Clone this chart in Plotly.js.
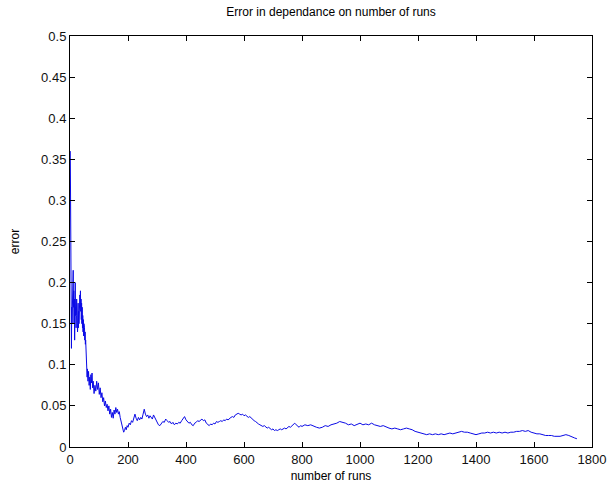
<!DOCTYPE html>
<html>
<head>
<meta charset="utf-8">
<script src="https://cdn.plot.ly/plotly-3.0.1.min.js"></script>
<style>html,body{margin:0;padding:0;background:#fff;}#chart{width:608px;height:490px;}</style>
</head>
<body>
<div id="chart"></div>
<script>
const runs = [
1,2,3,4,5,6,7,8,9,10,11,12,13,14,15,16,17,18,19,20,21,22,23,24,25,26,27,28,29,30,
31,32,33,34,35,36,37,38,39,40,41,42,43,44,45,46,47,48,49,50,51,52,53,54,55,56,57,58,59,60,
62,64,66,68,70,72,74,76,78,80,83,86,89,92,95,98,101,104,107,110,113,116,119,122,125,128,131,134,137,140,
143,146,149,152,155,158,161,164,167,170,173,176,179,182,185,188,191,194,197,200,
204,208,212,216,220,224,228,232,236,240,244,248,252,256,260,264,268,272,276,280,284,288,292,296,300,
305,310,315,320,325,330,335,340,345,350,355,360,365,370,375,380,385,390,395,400,
405,410,415,420,425,430,435,440,445,450,455,460,465,470,475,480,485,490,495,500,
505,510,515,520,525,530,535,540,545,550,555,560,565,570,575,580,585,590,595,600,
605,610,615,620,625,630,635,640,645,650,655,660,665,670,675,680,685,690,695,700,
705,710,715,720,725,730,735,740,745,750,755,760,765,770,775,780,785,790,795,800,
810,820,830,840,850,860,870,880,890,900,910,920,930,940,950,960,970,980,990,1000,
1010,1020,1030,1040,1050,1060,1070,1080,1090,1100,1110,1120,1130,1140,1150,1160,1170,1180,1190,1200,
1210,1220,1230,1240,1250,1260,1270,1280,1290,1300,1310,1320,1330,1340,1350,1360,1370,1380,1390,1400,
1410,1420,1430,1440,1450,1460,1470,1480,1490,1500,1510,1520,1530,1540,1550,1560,1570,1580,1590,1600,
1610,1620,1630,1640,1650,1660,1670,1680,1690,1700,1710,1720,1730,1740,1748
];
const errorValues = [
0.36,0.30,0.22,0.14,0.12,0.17,0.15,0.19,0.16,0.21,0.215,0.17,0.19,0.15,0.18,0.13,0.165,0.20,0.16,0.17,
0.145,0.16,0.18,0.155,0.17,0.14,0.15,0.175,0.145,0.165,0.15,0.18,0.16,0.185,0.17,0.19,0.165,0.18,0.155,0.175,
0.15,0.17,0.145,0.16,0.14,0.155,0.135,0.15,0.14,0.145,0.13,0.14,0.125,0.13,0.12,0.11,0.10,0.09,0.085,0.095,
0.08,0.092,0.075,0.085,0.07,0.088,0.078,0.09,0.072,0.08,0.065,0.075,0.068,0.08,0.07,0.078,0.064,0.072,0.06,0.066,
0.055,0.06,0.05,0.056,0.048,0.052,0.044,0.05,0.04,0.046,
0.036,0.042,0.035,0.045,0.04,0.048,0.042,0.046,0.04,0.043,0.036,0.032,0.027,0.022,0.018,0.02,0.024,0.021,0.026,0.024,
0.029,0.027,0.032,0.03,0.036,0.04,0.035,0.032,0.036,0.033,0.036,0.034,0.04,0.046,0.04,0.037,0.039,0.035,0.038,0.036,0.034,0.039,0.036,0.033,0.03,
0.027,0.026,0.029,0.031,0.03,0.034,0.032,0.03,0.031,0.028,0.03,0.027,0.029,0.028,0.03,0.029,0.032,0.034,0.037,0.033,
0.031,0.029,0.03,0.027,0.026,0.029,0.03,0.032,0.031,0.033,0.034,0.032,0.033,0.029,0.027,0.026,0.028,0.027,0.029,0.028,
0.031,0.03,0.031,0.032,0.031,0.033,0.032,0.034,0.033,0.035,0.036,0.037,0.036,0.039,0.04,0.041,0.04,0.039,0.04,0.038,
0.039,0.037,0.036,0.037,0.035,0.034,0.032,0.031,0.029,0.028,0.027,0.026,0.025,0.026,0.024,0.023,0.024,0.022,0.021,0.022,
0.02,0.021,0.02,0.021,0.022,0.021,0.022,0.023,0.022,0.024,0.025,0.024,0.026,0.028,0.029,0.027,0.025,0.024,0.026,0.025,
0.027,0.026,0.027,0.025,0.024,0.023,0.024,0.026,0.025,0.027,0.028,0.029,0.031,0.03,0.029,0.027,0.028,0.026,0.028,0.029,
0.027,0.028,0.027,0.029,0.027,0.026,0.025,0.026,0.024,0.023,0.022,0.023,0.022,0.021,0.022,0.023,0.022,0.021,0.019,0.018,
0.017,0.016,0.015,0.016,0.015,0.016,0.015,0.016,0.015,0.016,0.017,0.016,0.017,0.018,0.019,0.018,0.018,0.017,0.016,0.015,
0.016,0.017,0.017,0.018,0.017,0.018,0.017,0.018,0.017,0.018,0.017,0.018,0.018,0.019,0.019,0.02,0.019,0.02,0.018,0.017,
0.016,0.016,0.015,0.014,0.014,0.014,0.013,0.013,0.013,0.014,0.015,0.014,0.012,0.011,0.01
];
const xTicks = [0,200,400,600,800,1000,1200,1400,1600,1800];
const yTicks = [0,0.05,0.1,0.15,0.2,0.25,0.3,0.35,0.4,0.45,0.5];
const yTickText = ['0','0.05','0.1','0.15','0.2','0.25','0.3','0.35','0.4','0.45','0.5'];

const font = {family: 'Liberation Sans, Arial, sans-serif', size: 12, color: '#000'};
const tickFont = {family: 'Liberation Sans, Arial, sans-serif', size: 13, color: '#111'};
const axisCommon = {
  showline: true, linecolor: '#000', linewidth: 1, mirror: 'ticks',
  ticks: 'inside', ticklen: 5, tickcolor: '#000', tickwidth: 1,
  showgrid: false, zeroline: false, tickfont: tickFont
};
Plotly.newPlot('chart', [{
  x: runs, y: errorValues, type: 'scatter', mode: 'lines',
  line: {color: 'rgb(10,10,230)', width: 1}, hoverinfo: 'skip'
}], {
  width: 608, height: 490,
  margin: {l: 70, r: 16, t: 36, b: 43},
  paper_bgcolor: '#fff', plot_bgcolor: '#fff',
  showlegend: false,
  font: font,
  title: {text: 'Error in dependance on number of runs', font: {family: font.family, size: 12, color: '#000'}, x: 0.5445, xanchor: 'center', y: 0.975, yanchor: 'middle'},
  xaxis: Object.assign({}, axisCommon, {range: [0, 1800], tickvals: xTicks, ticktext: xTicks.map(String),
    title: {text: 'number of runs', font: font, standoff: 6}}),
  yaxis: Object.assign({}, axisCommon, {range: [0, 0.5], tickvals: yTicks, ticktext: yTickText,
    title: {text: 'error', font: font, standoff: 18}})
}, {displayModeBar: false, staticPlot: true});
</script>
</body>
</html>
